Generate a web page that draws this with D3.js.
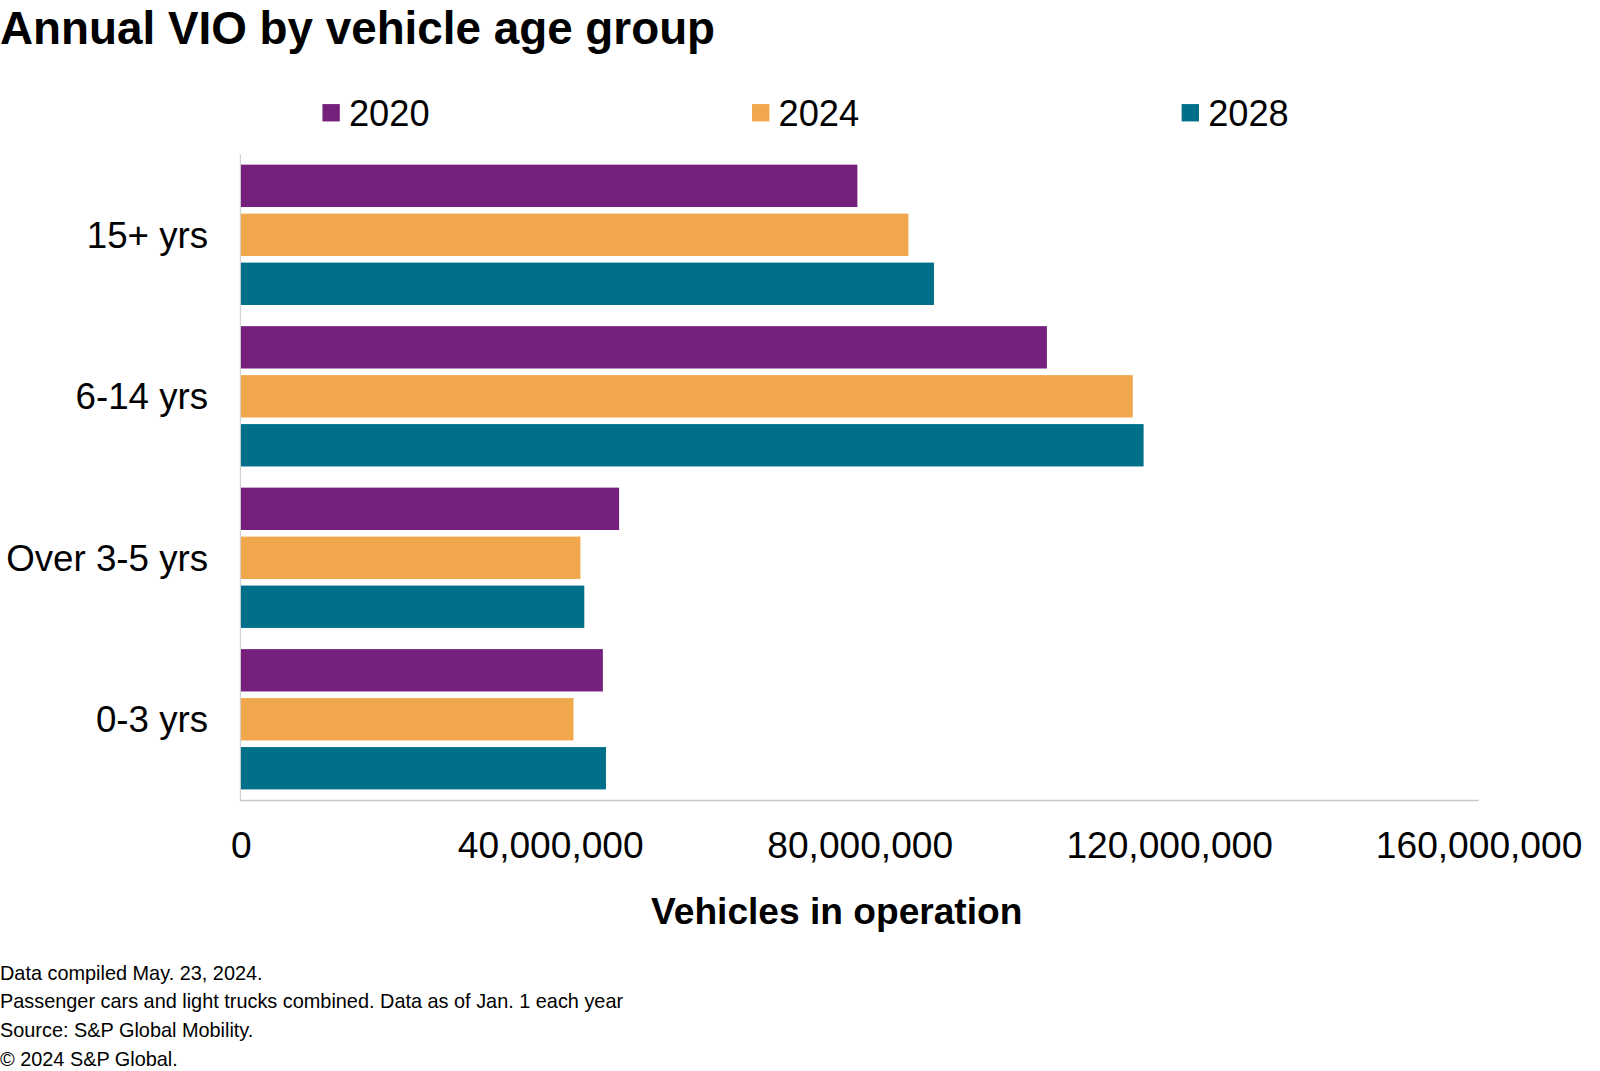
<!DOCTYPE html>
<html><head><meta charset="utf-8">
<script src="https://cdn.jsdelivr.net/npm/d3@7"></script>
<style>body{margin:0;background:#fff;} text{font-family:"Liberation Sans",Arial,sans-serif;fill:#000;}</style>
</head><body>
<svg id="c" width="1600" height="1071"></svg>
<script>
const categories = ["15+ yrs", "6-14 yrs", "Over 3-5 yrs", "0-3 yrs"];
const seriesNames = ["2020", "2024", "2028"];
const values2020 = [79700000, 104200000, 48900000, 46800000];
const values2024 = [86300000, 115300000, 43900000, 43000000];
const values2028 = [89600000, 116700000, 44400000, 47200000];
const tickValues = [0, 40000000, 80000000, 120000000, 160000000];
const colors = ["#76207d", "#f1a74c", "#006f89"];
const footnotes = ["Data compiled May. 23, 2024.",
  "Passenger cars and light trucks combined. Data as of Jan. 1 each year",
  "Source: S&P Global Mobility.",
  "\u00a9 2024 S&P Global."];

const series = [values2020, values2024, values2028];
const K = 1600 / 1568;
const svg = d3.select("#c").append("g").attr("transform", `scale(${K})`);

const x = d3.scaleLinear().domain([0, 160000000]).range([236, 1449]);
const y = d3.scaleBand().domain(categories).range([151, 784]).paddingInner(0).paddingOuter(0);
const yInner = d3.scaleBand().domain(seriesNames).range([0, y.bandwidth()]).paddingInner(0.135).paddingOuter(0.216);

svg.append("text").attr("x", 0).attr("y", 43).attr("font-size", 44.9).attr("font-weight", "bold").text("Annual VIO by vehicle age group");

// legend
const leg = svg.append("g");
seriesNames.forEach((s, i) => {
  const lx = 316 + i * 421;
  leg.append("rect").attr("x", lx).attr("y", 102).attr("width", 17).attr("height", 17).attr("fill", colors[i]);
  leg.append("text").attr("x", lx + 26).attr("y", 123).attr("font-size", 35.5).text(s);
});

// bars
const g = svg.append("g");
categories.forEach((c, ci) => {
  seriesNames.forEach((s, si) => {
    g.append("rect")
      .attr("x", x(0))
      .attr("y", y(c) + yInner(s))
      .attr("width", x(series[si][ci]) - x(0))
      .attr("height", yInner.bandwidth())
      .attr("fill", colors[si]);
  });
});

// axes lines
svg.append("line").attr("x1", 235.5).attr("x2", 235.5).attr("y1", 151).attr("y2", 784).attr("stroke", "#c8c8c8").attr("stroke-width", 1);
svg.append("line").attr("x1", 235).attr("x2", 1449).attr("y1", 784.5).attr("y2", 784.5).attr("stroke", "#c8c8c8").attr("stroke-width", 1.5);

// category labels
const yAxis = d3.axisLeft(y).tickSize(0).tickPadding(0);
const ya = svg.append("g").attr("transform", "translate(204,0)").call(yAxis);
ya.select(".domain").remove();
ya.selectAll("text").attr("font-size", 36).attr("font-family", "Liberation Sans, Arial, sans-serif").attr("fill", "#000").attr("dy", "0.35em");

// x axis labels
const fmt = d3.format(",");
const xAxis = d3.axisBottom(x).tickValues(tickValues).tickSize(0).tickPadding(0).tickFormat(d => fmt(d));
const xa = svg.append("g").attr("transform", "translate(0,841)").call(xAxis);
xa.select(".domain").remove();
xa.selectAll("text").attr("font-size", 36.4).attr("font-family", "Liberation Sans, Arial, sans-serif").attr("fill", "#000").attr("dy", 0).attr("y", 0);

svg.append("text").attr("x", 820).attr("y", 906).attr("text-anchor", "middle").attr("font-size", 36.4).attr("font-weight", "bold").text("Vehicles in operation");

footnotes.forEach((f, i) => {
  svg.append("text").attr("x", 0).attr("y", 960 + i * 28.3).attr("font-size", 19.5).text(f);
});
</script>
</body></html>
